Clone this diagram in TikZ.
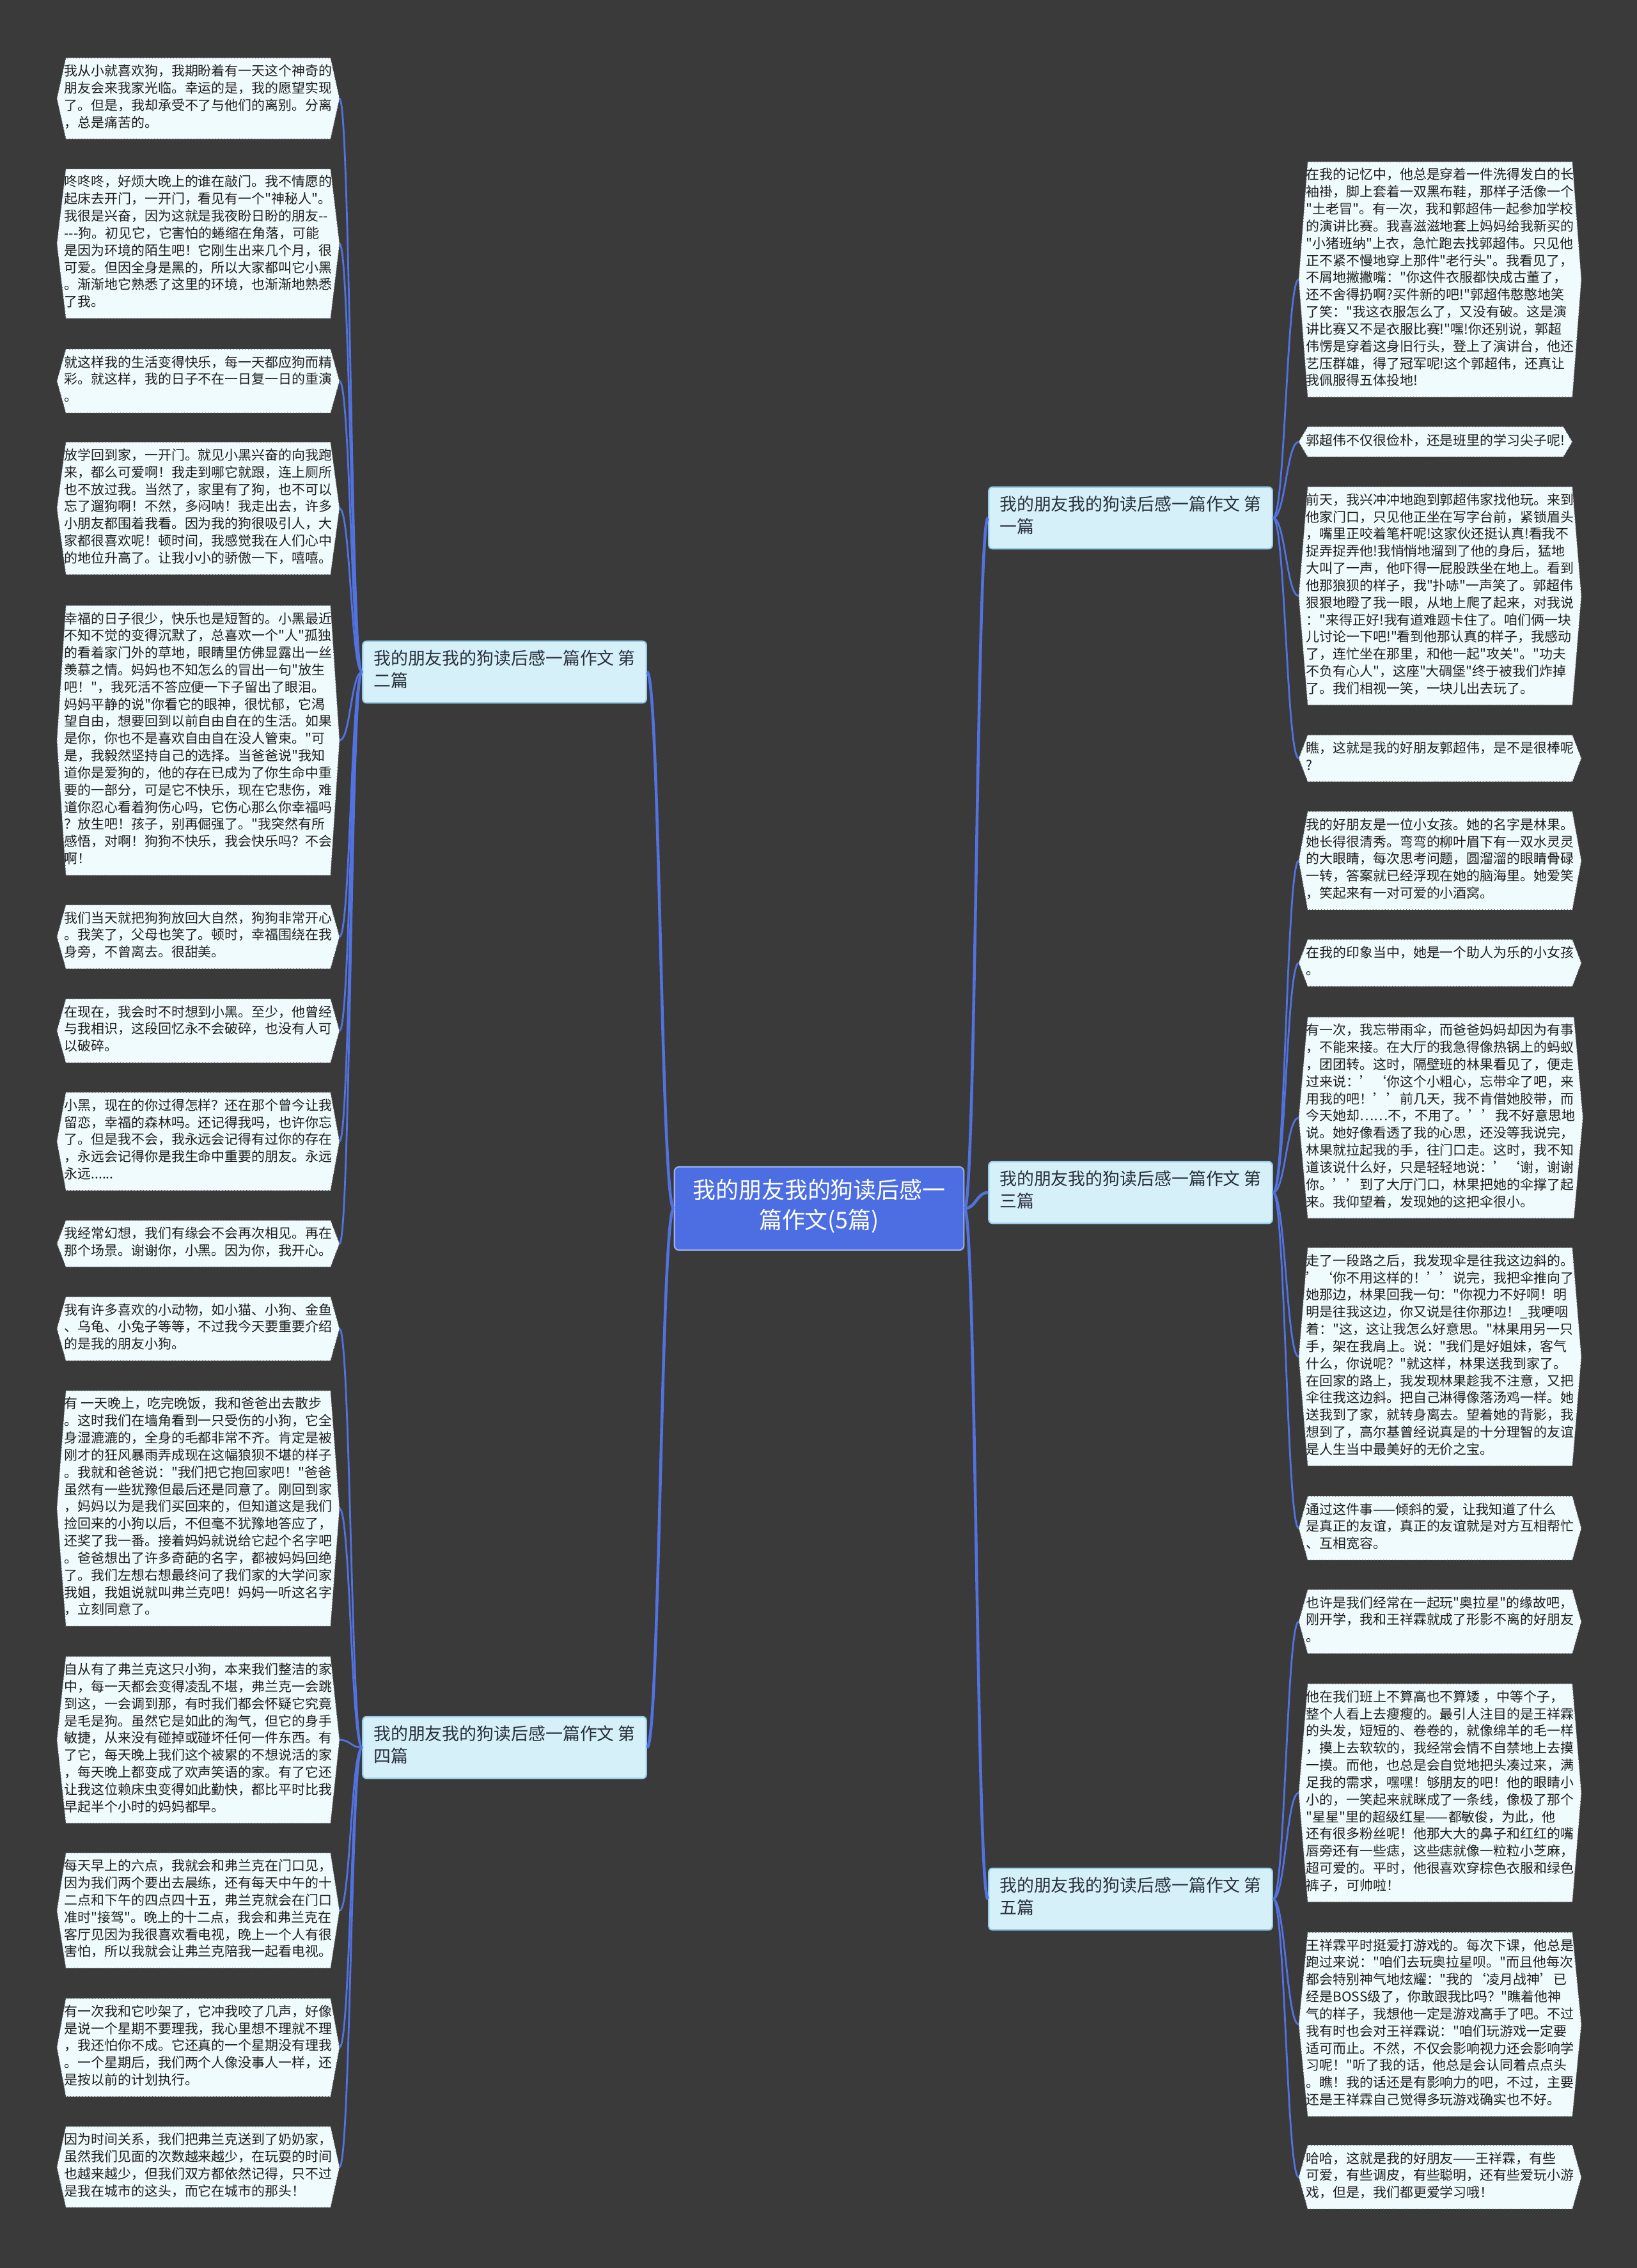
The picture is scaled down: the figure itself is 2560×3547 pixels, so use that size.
\documentclass[tikz,border=0pt]{standalone}
\usepackage{fontspec}
\newfontfamily\cjkfont{Noto Sans CJK SC}
\usetikzlibrary{backgrounds}
\definecolor{mapbg}{RGB}{58,58,58}
\definecolor{mapblue}{RGB}{76,110,226}
\definecolor{mapline}{RGB}{82,114,224}
\definecolor{leaffill}{RGB}{240,251,253}
\definecolor{leafedge}{RGB}{92,98,104}
\definecolor{leafink}{RGB}{30,30,30}
\definecolor{midfill}{RGB}{214,240,250}
\definecolor{midedge}{RGB}{150,206,234}
\definecolor{midink}{RGB}{40,48,58}
\tikzset{
  leaf/.style={font={\cjkfont\fontsize{5.95pt}{7.63pt}\selectfont}, align=left,
    anchor=west, inner xsep=0.11cm, inner ysep=0.095cm, text=leafink,
    execute at begin node=\strut, execute at end node=\strut},
  leafshape/.style={fill=leaffill, draw=leafedge, densely dotted, line width=0.35pt},
  midnode/.style={font={\cjkfont\fontsize{7.65pt}{10.2pt}\selectfont}, align=left,
    fill=midfill, draw=midedge, line width=0.6pt, rounded corners=0.06cm,
    inner xsep=0.17cm, inner ysep=0.135cm, text=midink,
    execute at begin node=\strut, execute at end node=\strut},
  rootnode/.style={font={\cjkfont\fontsize{10.2pt}{13.5pt}\selectfont}, align=center,
    fill=mapblue, draw=mapblue!55!white, line width=0.6pt, rounded corners=0.07cm,
    inner xsep=0.29cm, inner ysep=0.19cm, text=white,
    execute at begin node=\strut, execute at end node=\strut},
  trunk/.style={draw=mapline, line width=1.3pt},
  twig/.style={draw=mapline, line width=0.8pt},
}

\begin{document}
\begin{tikzpicture}[x=0.01cm, y=-0.01cm]
  \useasboundingbox (0,0) rectangle (2560,3547);

  \node[rootnode] (root) at (1281,1890) {我的朋友我的狗读后感一\\篇作文(5篇)};

  \node[midnode] (m1) at (1768,810) {我的朋友我的狗读后感一篇作文 第\\一篇};
  \node[midnode] (m2) at (789,1051) {我的朋友我的狗读后感一篇作文 第\\二篇};
  \node[midnode] (m3) at (1768,1865) {我的朋友我的狗读后感一篇作文 第\\三篇};
  \node[midnode] (m4) at (789,2733) {我的朋友我的狗读后感一篇作文 第\\四篇};
  \node[midnode] (m5) at (1768,2970) {我的朋友我的狗读后感一篇作文 第\\五篇};

  \node[leaf] (l1) at (89,154) {我从小就喜欢狗，我期盼着有一天这个神奇的\\朋友会来我家光临。幸运的是，我的愿望实现\\了。但是，我却承受不了与他们的离别。分离\\，总是痛苦的。};
  \node[leaf] (l2) at (89,381) {咚咚咚，好烦大晚上的谁在敲门。我不情愿的\\起床去开门，一开门，看见有一个"神秘人"。\\我很是兴奋，因为这就是我夜盼日盼的朋友--\\---狗。初见它，它害怕的蜷缩在角落，可能\\是因为环境的陌生吧！它刚生出来几个月，很\\可爱。但因全身是黑的，所以大家都叫它小黑\\。渐渐地它熟悉了这里的环境，也渐渐地熟悉\\了我。};
  \node[leaf] (l3) at (89,596) {就这样我的生活变得快乐，每一天都应狗而精\\彩。就这样，我的日子不在一日复一日的重演\\。};
  \node[leaf] (l4) at (89,795) {放学回到家，一开门。就见小黑兴奋的向我跑\\来，都么可爱啊！我走到哪它就跟，连上厕所\\也不放过我。当然了，家里有了狗，也不可以\\忘了遛狗啊！不然，多闷呐！我走出去，许多\\小朋友都围着我看。因为我的狗很吸引人，大\\家都很喜欢呢！顿时间，我感觉我在人们心中\\的地位升高了。让我小小的骄傲一下，嘻嘻。};
  \node[leaf] (l5) at (89,1158) {幸福的日子很少，快乐也是短暂的。小黑最近\\不知不觉的变得沉默了，总喜欢一个"人"孤独\\的看着家门外的草地，眼睛里仿佛显露出一丝\\羡慕之情。妈妈也不知怎么的冒出一句"放生\\吧！"，我死活不答应便一下子留出了眼泪。\\妈妈平静的说"你看它的眼神，很忧郁，它渴\\望自由，想要回到以前自由自在的生活。如果\\是你，你也不是喜欢自由自在没人管束。"可\\是，我毅然坚持自己的选择。当爸爸说"我知\\道你是爱狗的，他的存在已成为了你生命中重\\要的一部分，可是它不快乐，现在它悲伤，难\\道你忍心看着狗伤心吗，它伤心那么你幸福吗\\？放生吧！孩子，别再倔强了。"我突然有所\\感悟，对啊！狗狗不快乐，我会快乐吗？不会\\啊！};
  \node[leaf] (l6) at (89,1465) {我们当天就把狗狗放回大自然，狗狗非常开心\\。我笑了，父母也笑了。顿时，幸福围绕在我\\身旁，不曾离去。很甜美。};
  \node[leaf] (l7) at (89,1612) {在现在，我会时不时想到小黑。至少，他曾经\\与我相识，这段回忆永不会破碎，也没有人可\\以破碎。};
  \node[leaf] (l8) at (89,1785) {小黑，现在的你过得怎样？还在那个曾今让我\\留恋，幸福的森林吗。还记得我吗，也许你忘\\了。但是我不会，我永远会记得有过你的存在\\，永远会记得你是我生命中重要的朋友。永远\\永远......};
  \node[leaf] (l9) at (89,1945) {我经常幻想，我们有缘会不会再次相见。再在\\那个场景。谢谢你，小黑。因为你，我开心。};
  \node[leaf] (l10) at (89,2078) {我有许多喜欢的小动物，如小猫、小狗、金鱼\\、乌龟、小兔子等等，不过我今天要重要介绍\\的是我的朋友小狗。};
  \node[leaf] (l11) at (89,2359) {有 一天晚上，吃完晚饭，我和爸爸出去散步\\。这时我们在墙角看到一只受伤的小狗，它全\\身湿漉漉的，全身的毛都非常不齐。肯定是被\\刚才的狂风暴雨弄成现在这幅狼狈不堪的样子\\。我就和爸爸说："我们把它抱回家吧！"爸爸\\虽然有一些犹豫但最后还是同意了。刚回到家\\，妈妈以为是我们买回来的，但知道这是我们\\捡回来的小狗以后，不但毫不犹豫地答应了，\\还奖了我一番。接着妈妈就说给它起个名字吧\\。爸爸想出了许多奇葩的名字，都被妈妈回绝\\了。我们左想右想最终问了我们家的大学问家\\我姐，我姐说就叫弗兰克吧！妈妈一听这名字\\，立刻同意了。};
  \node[leaf] (l12) at (89,2721) {自从有了弗兰克这只小狗，本来我们整洁的家\\中，每一天都会变得凌乱不堪，弗兰克一会跳\\到这，一会调到那，有时我们都会怀疑它究竟\\是毛是狗。虽然它是如此的淘气，但它的身手\\敏捷，从来没有碰掉或碰坏任何一件东西。有\\了它，每天晚上我们这个被累的不想说活的家\\，每天晚上都变成了欢声笑语的家。有了它还\\让我这位赖床虫变得如此勤快，都比平时比我\\早起半个小时的妈妈都早。};
  \node[leaf] (l13) at (89,2988) {每天早上的六点，我就会和弗兰克在门口见，\\因为我们两个要出去晨练，还有每天中午的十\\二点和下午的四点四十五，弗兰克就会在门口\\准时"接驾"。晚上的十二点，我会和弗兰克在\\客厅见因为我很喜欢看电视，晚上一个人有很\\害怕，所以我就会让弗兰克陪我一起看电视。};
  \node[leaf] (l14) at (89,3202) {有一次我和它吵架了，它冲我咬了几声，好像\\是说一个星期不要理我，我心里想不理就不理\\，我还怕你不成。它还真的一个星期没有理我\\。一个星期后，我们两个人像没事人一样，还\\是按以前的计划执行。};
  \node[leaf] (l15) at (89,3389) {因为时间关系，我们把弗兰克送到了奶奶家，\\虽然我们见面的次数越来越少，在玩耍的时间\\也越来越少，但我们双方都依然记得，只不过\\是我在城市的这头，而它在城市的那头！};

  \node[leaf] (r1) at (2031,437) {在我的记忆中，他总是穿着一件洗得发白的长\\袖褂，脚上套着一双黑布鞋，那样子活像一个\\"土老冒"。有一次，我和郭超伟一起参加学校\\的演讲比赛。我喜滋滋地套上妈妈给我新买的\\"小猪班纳"上衣，急忙跑去找郭超伟。只见他\\正不紧不慢地穿上那件"老行头"。我看见了，\\不屑地撇撇嘴："你这件衣服都快成古董了，\\还不舍得扔啊?买件新的吧!"郭超伟憨憨地笑\\了笑："我这衣服怎么了，又没有破。这是演\\讲比赛又不是衣服比赛!"嘿!你还别说，郭超\\伟愣是穿着这身旧行头，登上了演讲台，他还\\艺压群雄，得了冠军呢!这个郭超伟，还真让\\我佩服得五体投地!};
  \node[leaf] (r2) at (2031,691) {郭超伟不仅很俭朴，还是班里的学习尖子呢!};
  \node[leaf] (r3) at (2031,932) {前天，我兴冲冲地跑到郭超伟家找他玩。来到\\他家门口，只见他正坐在写字台前，紧锁眉头\\，嘴里正咬着笔杆呢!这家伙还挺认真!看我不\\捉弄捉弄他!我悄悄地溜到了他的身后，猛地\\大叫了一声，他吓得一屁股跌坐在地上。看到\\他那狼狈的样子，我"扑哧"一声笑了。郭超伟\\狠狠地瞪了我一眼，从地上爬了起来，对我说\\："来得正好!我有道难题卡住了。咱们俩一块\\儿讨论一下吧!"看到他那认真的样子，我感动\\了，连忙坐在那里，和他一起"攻关"。"功夫\\不负有心人"，这座"大碉堡"终于被我们炸掉\\了。我们相视一笑，一块儿出去玩了。};
  \node[leaf] (r4) at (2031,1186) {瞧，这就是我的好朋友郭超伟，是不是很棒呢\\?};
  \node[leaf] (r5) at (2031,1346) {我的好朋友是一位小女孩。她的名字是林果。\\她长得很清秀。弯弯的柳叶眉下有一双水灵灵\\的大眼睛，每次思考问题，圆溜溜的眼睛骨碌\\一转，答案就已经浮现在她的脑海里。她爱笑\\，笑起来有一对可爱的小酒窝。};
  \node[leaf] (r6) at (2031,1506) {在我的印象当中，她是一个助人为乐的小女孩\\。};
  \node[leaf] (r7) at (2031,1748) {有一次，我忘带雨伞，而爸爸妈妈却因为有事\\，不能来接。在大厅的我急得像热锅上的蚂蚁\\，团团转。这时，隔壁班的林果看见了，便走\\过来说：’‘你这个小粗心，忘带伞了吧，来\\用我的吧！’’前几天，我不肯借她胶带，而\\今天她却……不，不用了。’’我不好意思地\\说。她好像看透了我的心思，还没等我说完，\\林果就拉起我的手，往门口走。这时，我不知\\道该说什么好，只是轻轻地说：’‘谢，谢谢\\你。’’到了大厅门口，林果把她的伞撑了起\\来。我仰望着，发现她的这把伞很小。};
  \node[leaf] (r8) at (2031,2122) {走了一段路之后，我发现伞是往我这边斜的。\\’‘你不用这样的！’’说完，我把伞推向了\\她那边，林果回我一句："你视力不好啊！明\\明是往我这边，你又说是往你那边！\_我哽咽\\着："这，这让我怎么好意思。"林果用另一只\\手，架在我肩上。说："我们是好姐妹，客气\\什么，你说呢？"就这样，林果送我到家了。\\在回家的路上，我发现林果趁我不注意，又把\\伞往我这边斜。把自己淋得像落汤鸡一样。她\\送我到了家，就转身离去。望着她的背影，我\\想到了，高尔基曾经说真是的十分理智的友谊\\是人生当中最美好的无价之宝。};
  \node[leaf] (r9) at (2031,2390) {通过这件事——倾斜的爱，让我知道了什么\\是真正的友谊，真正的友谊就是对方互相帮忙\\、互相宽容。};
  \node[leaf] (r10) at (2031,2536) {也许是我们经常在一起玩"奥拉星"的缘故吧，\\刚开学，我和王祥霖就成了形影不离的好朋友\\。};
  \node[leaf] (r11) at (2031,2804) {他在我们班上不算高也不算矮 ，中等个子，\\整个人看上去瘦瘦的。最引人注目的是王祥霖\\的头发，短短的、卷卷的，就像绵羊的毛一样\\，摸上去软软的，我经常会情不自禁地上去摸\\一摸。而他，也总是会自觉地把头凑过来，满\\足我的需求，嘿嘿！够朋友的吧！他的眼睛小\\小的，一笑起来就眯成了一条线，像极了那个\\"星星"里的超级红星——都敏俊，为此，他\\还有很多粉丝呢！他那大大的鼻子和红红的嘴\\唇旁还有一些痣，这些痣就像一粒粒小芝麻，\\超可爱的。平时，他很喜欢穿棕色衣服和绿色\\裤子，可帅啦！};
  \node[leaf] (r12) at (2031,3166) {王祥霖平时挺爱打游戏的。每次下课，他总是\\跑过来说："咱们去玩奥拉星呗。"而且他每次\\都会特别神气地炫耀："我的‘凌月战神’已\\经是BOSS级了，你敢跟我比吗？"瞧着他神\\气的样子，我想他一定是游戏高手了吧。不过\\我有时也会对王祥霖说："咱们玩游戏一定要\\适可而止。不然，不仅会影响视力还会影响学\\习呢！"听了我的话，他总是会认同着点点头\\。瞧！我的话还是有影响力的吧，不过，主要\\还是王祥霖自己觉得多玩游戏确实也不好。};
  \node[leaf] (r13) at (2031,3405) {哈哈，这就是我的好朋友——王祥霖，有些\\可爱，有些调皮，有些聪明，还有些爱玩小游\\戏，但是，我们都更爱学习哦！};

  \begin{scope}[on background layer]
    \fill[mapbg] (0,0) rectangle (2560,3547);
    \foreach \n in {l1,l2,l3,l4,l5,l6,l7,l8,l9,l10,l11,l12,l13,l14,l15,
                    r1,r2,r3,r4,r5,r6,r7,r8,r9,r10,r11,r12,r13}
      \path[leafshape] (\n.west) -- ([xshift=0.14cm]\n.north west)
        -- ([xshift=-0.14cm]\n.north east) -- (\n.east)
        -- ([xshift=-0.14cm]\n.south east) -- ([xshift=0.14cm]\n.south west) -- cycle;
  \end{scope}

  \draw[trunk] (root.east) .. controls +(18,0) and +(-18,0) .. (m1.west);
  \draw[trunk] (root.west) .. controls +(-20,0) and +(20,0) .. (m2.east);
  \draw[trunk] (root.east) .. controls +(18,0) and +(-18,0) .. (m3.west);
  \draw[trunk] (root.west) .. controls +(-20,0) and +(20,0) .. (m4.east);
  \draw[trunk] (root.east) .. controls +(18,0) and +(-18,0) .. (m5.west);

  \foreach \i in {1,...,9}
    \draw[twig] (m2.west) .. controls +(-17,0) and +(17,0) .. (l\i.east);
  \foreach \i in {10,...,15}
    \draw[twig] (m4.west) .. controls +(-17,0) and +(17,0) .. (l\i.east);
  \foreach \i in {1,...,4}
    \draw[twig] (m1.east) .. controls +(19,0) and +(-19,0) .. (r\i.west);
  \foreach \i in {5,...,9}
    \draw[twig] (m3.east) .. controls +(19,0) and +(-19,0) .. (r\i.west);
  \foreach \i in {10,...,13}
    \draw[twig] (m5.east) .. controls +(19,0) and +(-19,0) .. (r\i.west);
\end{tikzpicture}
\end{document}
